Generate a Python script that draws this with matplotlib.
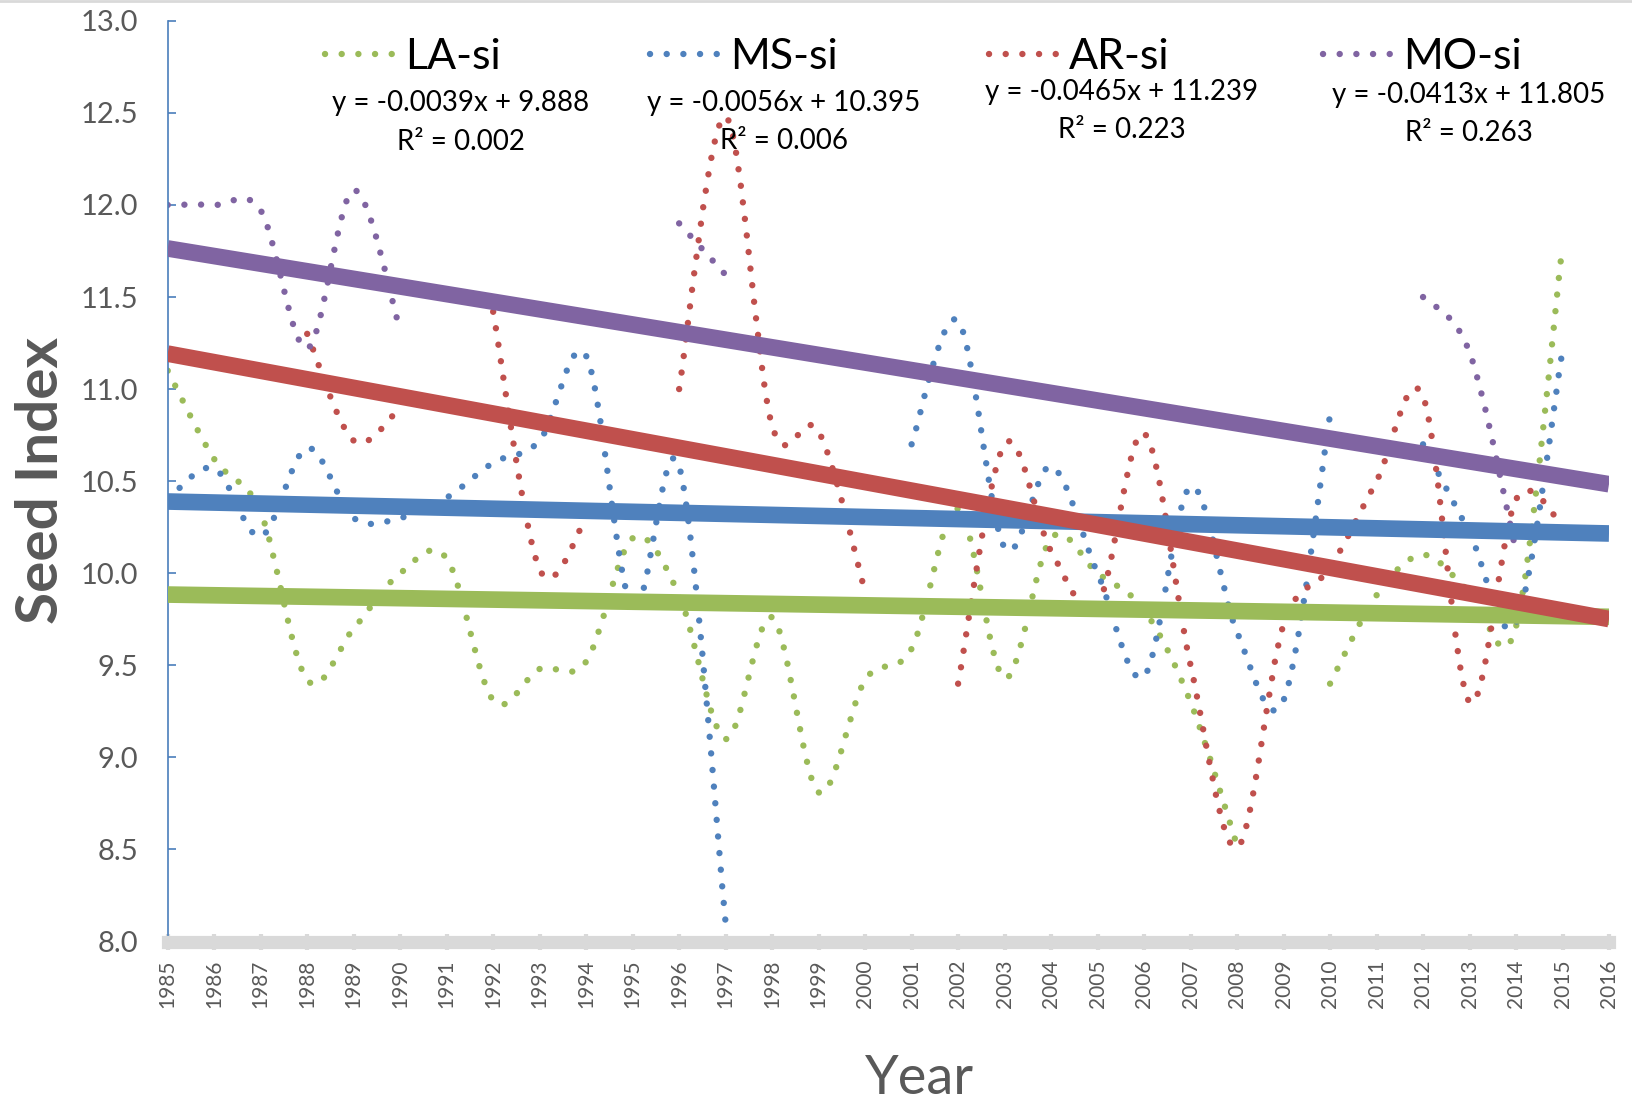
import numpy as np
import matplotlib.pyplot as plt
from matplotlib.path import Path
from matplotlib.patches import PathPatch
from matplotlib.lines import Line2D

plt.rcParams['font.family'] = ['Lato', 'DejaVu Sans']

# yearly seed index values (None = no data)
years = list(range(1985, 2017))

la_si = [11.10, 10.62, 10.33, 9.42, 9.70, 10.00, 10.08, 9.31, 9.48, 9.52,
         10.19, 9.88, 9.10, 9.76, 8.81, 9.42, 9.59, 10.35, 9.43, 10.19,
         10.00, 9.80, 9.30, 8.52, None, 9.40, 9.88, 10.10, 9.90, 9.71,
         11.78, None]
ms_si = [10.40, 10.57, 10.20, 10.68, 10.30, 10.30, 10.41, 10.60, 10.72, 11.18,
         9.81, 10.58, 8.10, None, None, None, 10.70, 11.37, 10.14, 10.58,
         10.00, 9.44, 10.47, 9.68, 9.31, 10.86, None, 10.70, 10.22, 9.73,
         11.21, None]
ar_si = [None, None, None, 11.30, 10.72, 10.90, None, 11.42, 10.02, 10.30,
         None, 11.00, 12.48, 10.80, 10.77, 9.90, None, 9.40, 10.70, 10.12,
         9.83, 10.76, 9.50, 8.51, 9.72, 10.03, 10.50, 10.96, 9.30, 10.40,
         10.26, None]
mo_si = [12.00, 12.00, 11.97, 11.22, 12.08, 11.32, None, None, None, None,
         None, 11.90, 11.62, None, None, None, None, None, None, None,
         None, None, None, None, None, None, None, 11.50, 11.20, 10.12,
         None, None]

names = ['LA-si', 'MS-si', 'AR-si', 'MO-si']
colors = ['#9bbb59', '#4f81bd', '#c0504d', '#8064a2']
# linear trend: y = slope * x + intercept, x = 1..32
slopes = [-0.0039, -0.0056, -0.0465, -0.0413]
intercepts = [9.888, 10.395, 11.239, 11.805]
r2 = ['0.002', '0.006', '0.223', '0.263']


def smooth_path(xs, ys):
    # Excel-like smoothed line: cubic Bezier through the points, gaps split runs
    runs, cur = [], []
    for x, y in zip(xs, ys):
        if y is None:
            if cur:
                runs.append(cur)
            cur = []
        else:
            cur.append((x, y))
    if cur:
        runs.append(cur)
    verts, codes = [], []
    for run in runs:
        p = np.array(run, dtype=float)
        n = len(p)
        verts.append(p[0])
        codes.append(Path.MOVETO)
        for i in range(n - 1):
            p0 = p[max(i - 1, 0)]
            p1 = p[i]
            p2 = p[i + 1]
            p3 = p[min(i + 2, n - 1)]
            verts += [p1 + (p2 - p0) / 6, p2 - (p3 - p1) / 6, p2]
            codes += [Path.CURVE4] * 3
    return Path(verts, codes)


W, H = 1633, 1103
fig = plt.figure(figsize=(W / 100, H / 100), dpi=100)
ax = fig.add_axes([167.7 / W, 1 - 941.5 / H, (1609 - 167.7) / W, (941.5 - 20.8) / H])

dots = (0, (0.01, 2.6))
dot_lw = 4.6
series = [la_si, ms_si, ar_si, mo_si]
for vals, c in zip(series, colors):
    patch = PathPatch(smooth_path(years, vals), fill=False, edgecolor=c,
                      linewidth=dot_lw, linestyle=dots, capstyle='round', zorder=2)
    ax.add_patch(patch)

xt = np.array([years[0], years[-1]])
for s, b, c in zip(slopes, intercepts, colors):
    ax.plot(xt, s * (xt - 1984) + b, color=c, linewidth=12,
            solid_capstyle='butt', zorder=3)

ax.set_xlim(1985, 2016)
ax.set_ylim(8, 13)
ax.set_yticks(np.arange(8, 13.01, 0.5))
ax.set_yticklabels(['%.1f' % v for v in np.arange(8, 13.01, 0.5)])
ax.set_xticks(years)
ax.set_xticklabels([str(y) for y in years], rotation=90)

for side in ['top', 'right']:
    ax.spines[side].set_visible(False)
ax.spines['left'].set_color('#4a7ebb')
ax.spines['left'].set_linewidth(1.2)
ax.spines['bottom'].set_color('#d9d9d9')
ax.spines['bottom'].set_linewidth(9.5)
ax.spines['bottom'].set_capstyle('projecting')
ax.spines['bottom'].set_zorder(4)

ax.tick_params(axis='y', direction='in', length=6, width=1.2, color='#4a7ebb',
               labelsize=21, labelcolor='#595959', pad=21)
ax.tick_params(axis='x', direction='inout', length=12, width=3, color='#d9d9d9',
               labelsize=15, labelcolor='#595959', pad=7)

fig.text(42 / W, 1 - 480 / H, 'Seed Index', rotation=90, ha='center',
         va='center', fontsize=42, fontweight='bold', color='#595959')
fig.text(919 / W, 1 - 1094 / H, 'Year', ha='center', va='baseline',
         fontsize=39, color='#595959')

# legend entries placed one by one along the top
leg_x = [325, 650, 989, 1323]
for name, c, lx in zip(names, colors, leg_x):
    h = Line2D([], [], color=c, linewidth=dot_lw, linestyle=dots,
               dash_capstyle='round')
    leg = fig.legend([h], [name], loc='center left',
                     bbox_to_anchor=(lx / W, 1 - 57 / H), frameon=False,
                     fontsize=31, handlelength=1.7, handletextpad=0.15,
                     borderpad=0, borderaxespad=0)

eq_x = [461, 784, 1122, 1469]
eq_y = [103, 103, 92, 95]
r2_y = [142, 141, 130, 133]
for s, b, r, ex, ey, ry in zip(slopes, intercepts, r2, eq_x, eq_y, r2_y):
    fig.text(ex / W, 1 - ey / H, 'y = %gx + %.3f' % (s, b), ha='center',
             va='center', fontsize=20)
    fig.text(ex / W, 1 - ry / H, 'R² = ' + r, ha='center', va='center',
             fontsize=20)

fig.add_artist(Line2D([0, 1], [1 - 1 / H, 1 - 1 / H], transform=fig.transFigure,
                      color='#d9d9d9', linewidth=2))

fig.savefig('out.png', dpi=100)
